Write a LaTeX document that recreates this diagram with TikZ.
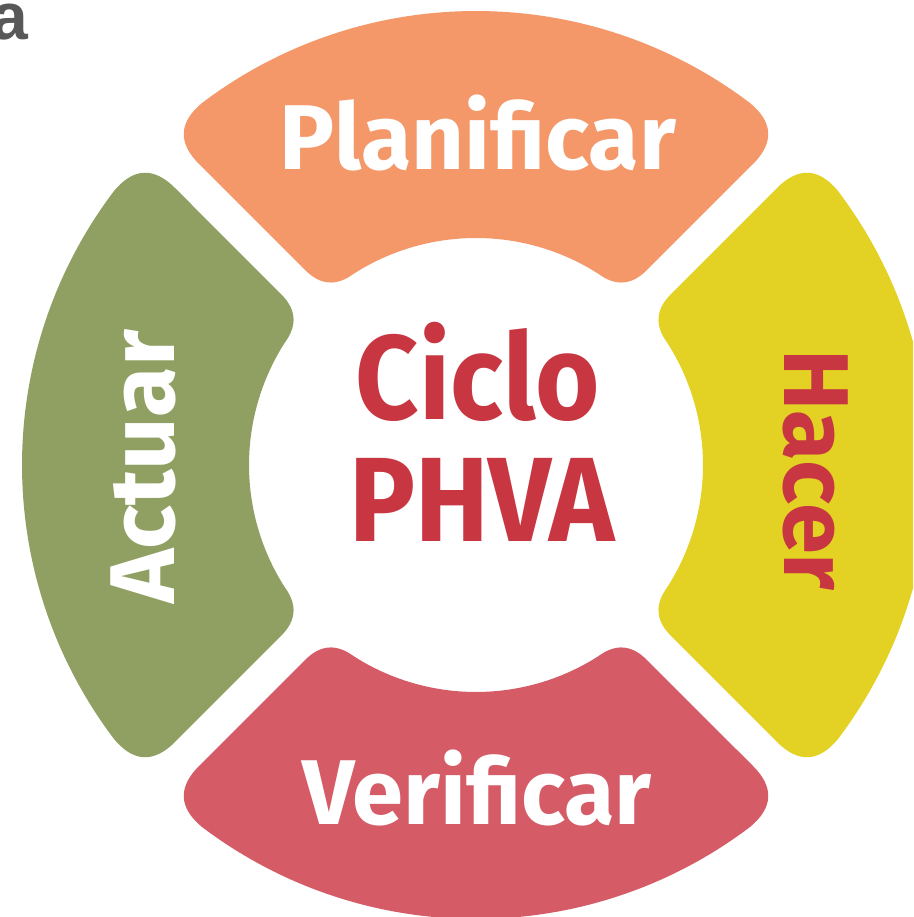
\documentclass[tikz,border=0pt]{standalone}
\usepackage{fontspec}
\setmainfont{Fira Sans}
\newfontfamily\afont{Liberation Sans}
\definecolor{cOrange}{HTML}{F4986A}
\definecolor{cYellow}{HTML}{E3D124}
\definecolor{cRed}{HTML}{D55C67}
\definecolor{cGreen}{HTML}{8FA062}
\definecolor{cText}{HTML}{C83642}
\definecolor{cGray}{HTML}{585858}
\tikzset{
  pics/ringseg/.style={code={
    \path[pic actions] (170.6,194.7) -- (277.0,301.0)
      .. controls (298.2,322.2) and (297.3,342.5) .. (52.83:454)
      arc[start angle=52.83, end angle=127.17, radius=454]
      .. controls (-297.3,342.5) and (-298.2,322.2) .. (-277.0,301.0)
      -- (-170.6,194.7)
      .. controls (-155.5,179.6) and (-139.5,178.5) .. (122.62:227)
      arc[start angle=122.62, end angle=57.38, radius=227]
      .. controls (139.5,178.5) and (155.5,179.6) .. cycle;
  }},
  lbl/.style={font=\bfseries\fontsize{92}{92}\selectfont, inner sep=0pt, anchor=base},
  midtxt/.style={font=\bfseries\fontsize{120}{120}\selectfont, text=cText, inner sep=0pt, anchor=base, xscale=0.92, transform shape}
}
\begin{document}
\begin{tikzpicture}[x=1pt,y=1pt]
\useasboundingbox (0,0) rectangle (913,917);
\clip (0,0) rectangle (913,917);
\pic[fill=cOrange] at (476,452) {ringseg};
\pic[fill=cGreen, rotate=90] at (476,452) {ringseg};
\pic[fill=cRed, rotate=180] at (476,452) {ringseg};
\pic[fill=cYellow, rotate=-90] at (476,452) {ringseg};
\node[lbl, text=white] (plan) at (478,747) {Planificar};
\node[lbl, text=white] (veri) at (477,92) {Verificar};
\node[lbl, text=white, rotate=90] (actu) at (174,450) {Actuar};
\node[lbl, text=cText, rotate=-90] (hace) at (784,447) {Hacer};
\node[midtxt] (ciclo) at (478,497) {Ciclo};
\node[midtxt] (phva) at (482,375) {PHVA};
\node[font=\afont\bfseries\fontsize{66}{66}\selectfont, text=cGray, inner sep=0pt, anchor=base east] (lettera) at (28,877) {a};
\end{tikzpicture}
\end{document}
